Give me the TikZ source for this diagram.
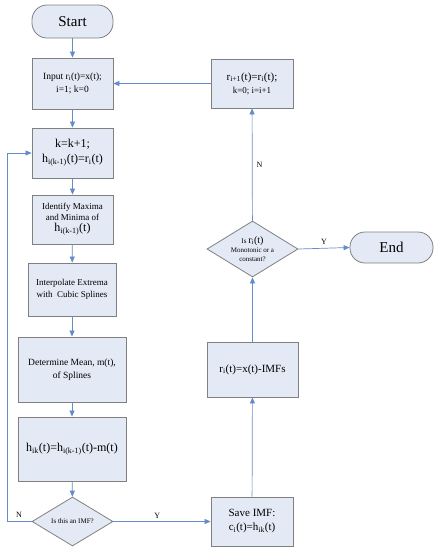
\documentclass[tikz,border=0pt]{standalone}
\usepackage{fontspec}
\setmainfont{Liberation Serif}
\usetikzlibrary{arrows.meta,shapes.geometric}
\definecolor{boxfill}{RGB}{228,234,245}
\definecolor{boxline}{RGB}{128,128,128}
\definecolor{arrowc}{RGB}{100,140,200}
\newcommand{\sbs}[1]{\textsubscript{#1}}
\tikzset{
  procbox/.style={draw=boxline, fill=boxfill, line width=0.8pt, align=center, inner sep=1pt},
  pill/.style={procbox, rounded corners=15pt},
  decision/.style={draw=boxline, fill=boxfill, line width=0.8pt, diamond, inner sep=0pt},
  flow/.style={draw=arrowc, line width=0.7pt, -{Triangle[width=5pt,length=6pt]}},
  lbl/.style={font=\fontsize{8}{9}\selectfont, inner sep=1pt}
}
\begin{document}
\begin{tikzpicture}[x=1pt,y=-1pt]
\useasboundingbox (0,0) rectangle (437,550);
% left column
\node[pill, minimum width=81pt, minimum height=33pt, font=\fontsize{15}{17}\selectfont] (start) at (72.5,21.5) {Start};
\node[procbox, minimum width=81pt, minimum height=51pt, font=\fontsize{9.5}{13}\selectfont] (input) at (72.5,83.5) {Input r\sbs{i}(t)=x(t);\\ i=1; k=0};
\node[procbox, minimum width=81pt, minimum height=50pt, font=\fontsize{12}{15}\selectfont] (kbox) at (72.5,153) {k=k+1;\\ h\sbs{i(k-1)}(t)=r\sbs{i}(t)};
\node[procbox, minimum width=81pt, minimum height=49pt, font=\fontsize{9}{11}\selectfont] (ident) at (72.5,219.5) {Identify Maxima\\ and Minima of\\ {\fontsize{12}{13}\selectfont h\sbs{i(k-1)}(t)}};
\node[procbox, minimum width=88pt, minimum height=53pt, font=\fontsize{9}{12}\selectfont] (interp) at (72,289.5) {Interpolate Extrema\\ with\ \ Cubic Splines};
\node[procbox, minimum width=108pt, minimum height=65pt, font=\fontsize{9.5}{13}\selectfont] (determ) at (72,369.5) {Determine Mean, m(t),\\ of Splines};
\node[procbox, minimum width=108pt, minimum height=64pt, font=\fontsize{12}{14}\selectfont] (hbox) at (72,449) {h\sbs{ik}(t)=h\sbs{i(k-1)}(t)-m(t)};
\node[decision, minimum width=81pt, minimum height=49pt, label={[font=\fontsize{7}{8}\selectfont]center:Is this an IMF?}] (dec1) at (72.5,521.5) {};
% right column
\node[procbox, minimum width=82pt, minimum height=49pt, font=\fontsize{11}{14}\selectfont] (save) at (252,521.5) {Save IMF:\\ c\sbs{i}(t)=h\sbs{ik}(t)};
\node[procbox, minimum width=91pt, minimum height=55pt, font=\fontsize{11}{13}\selectfont] (resid) at (252.5,369.5) {r\sbs{i}(t)=x(t)-IMFs};
\node[decision, minimum width=91pt, minimum height=56pt, label={[font=\fontsize{7}{9}\selectfont, align=center]center:Is {\fontsize{10}{11}\selectfont r\sbs{i}(t)}\\ Monotonic or a\\ constant?}] (dec2) at (252.5,249) {};
\node[pill, minimum width=83pt, minimum height=31pt, font=\fontsize{15}{17}\selectfont] (end) at (391.5,247.5) {End};
\node[procbox, minimum width=82pt, minimum height=49pt, font=\fontsize{9}{13}\selectfont] (next) at (252,83.5) {{\fontsize{11}{13}\selectfont r\sbs{i+1}(t)=r\sbs{i}(t);}\\ k=0; i=i+1};
% connectors
\draw[flow] (start) -- (input);
\draw[flow] (input) -- (kbox);
\draw[flow] (kbox) -- (ident);
\draw[flow] (ident) -- (interp);
\draw[flow] (interp) -- (determ);
\draw[flow] (determ) -- (hbox);
\draw[flow] (hbox) -- (dec1);
\coordinate (loopb) at (7,521.5);
\coordinate (loopt) at (7,153);
\draw[flow] (dec1.west) -- (loopb) -- (loopt) -- (kbox.west);
\node[lbl] (nlab1) at (19,515) {N};
\draw[flow] (dec1.east) -- (save.west) node[lbl, pos=0.45, above=2pt] (ylab1) {Y};
\draw[flow] (save) -- (resid);
\draw[flow] (resid) -- (dec2);
\draw[flow] (dec2.east) -- (end.west) node[lbl, midway, above=2pt] (ylab2) {Y};
\draw[flow] (dec2) -- (next) node[lbl, pos=0.5, right=3pt] (nlab2) {N};
\draw[flow] (next) -- (input);
\end{tikzpicture}
\end{document}
